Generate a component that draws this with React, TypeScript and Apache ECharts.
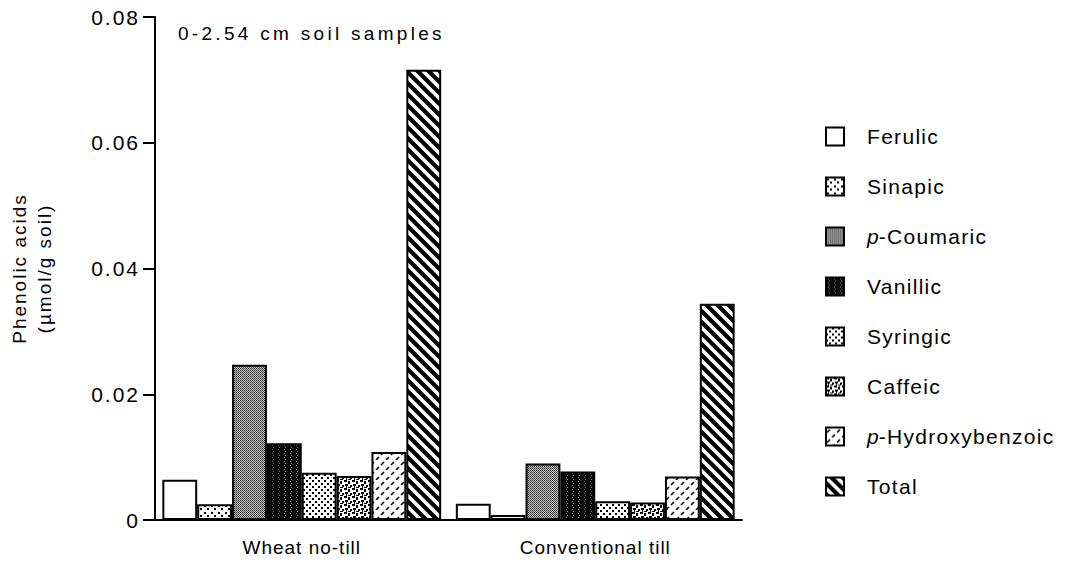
import React, { useEffect, useRef } from "react";
import * as echarts from "echarts";

const categories = ["Wheat no-till", "Conventional till"];
const acidNames = [
  "Ferulic",
  "Sinapic",
  "p-Coumaric",
  "Vanillic",
  "Syringic",
  "Caffeic",
  "p-Hydroxybenzoic",
  "Total",
];
const wheatNoTill = [0.0064, 0.0025, 0.0247, 0.0122, 0.0075, 0.007, 0.0108, 0.0716];
const conventionalTill = [0.0026, 0.0008, 0.009, 0.0077, 0.003, 0.0028, 0.0069, 0.0344];
const yMin = 0;
const yMax = 0.08;
const yStep = 0.02;
const subtitle = "0-2.54 cm soil samples";
const yNameLines = ["Phenolic acids", "(\u00b5mol/g soil)"];

const FONT = "'Liberation Sans', Arial, Helvetica, sans-serif";

function makePattern(w: number, h: number, draw: (ctx: CanvasRenderingContext2D) => void) {
  const c = document.createElement("canvas");
  c.width = w;
  c.height = h;
  const ctx = c.getContext("2d") as CanvasRenderingContext2D;
  draw(ctx);
  return { image: c, repeat: "repeat", imageWidth: w, imageHeight: h } as any;
}

function buildPatterns() {
  const white = "#ffffff";
  const black = "#000000";
  const ferulic = white;
  const sinapic = makePattern(7, 7, (ctx) => {
    ctx.fillStyle = white;
    ctx.fillRect(0, 0, 7, 7);
    ctx.fillStyle = black;
    ctx.fillRect(1, 1, 2, 2);
    ctx.fillRect(4, 4, 2, 2);
  });
  const coumaric = makePattern(2, 2, (ctx) => {
    ctx.fillStyle = "#c8c8c8";
    ctx.fillRect(0, 0, 2, 2);
    ctx.fillStyle = "#222";
    ctx.fillRect(0, 0, 1, 1);
    ctx.fillStyle = "#555";
    ctx.fillRect(1, 1, 1, 1);
  });
  const vanillic = makePattern(6, 4, (ctx) => {
    ctx.fillStyle = "#0a0a0a";
    ctx.fillRect(0, 0, 6, 4);
    ctx.fillStyle = "#777";
    ctx.fillRect(2, 1, 1, 1);
    ctx.fillRect(3, 3, 1, 1);
  });
  const syringic = makePattern(6, 6, (ctx) => {
    ctx.fillStyle = white;
    ctx.fillRect(0, 0, 6, 6);
    ctx.fillStyle = black;
    ctx.fillRect(0, 0, 2, 2);
    ctx.fillRect(3, 3, 2, 2);
  });
  const caffeic = makePattern(8, 8, (ctx) => {
    ctx.fillStyle = white;
    ctx.fillRect(0, 0, 8, 8);
    ctx.fillStyle = black;
    ctx.fillRect(0, 0, 3, 2);
    ctx.fillRect(4, 1, 2, 3);
    ctx.fillRect(1, 4, 3, 2);
    ctx.fillRect(6, 5, 2, 2);
    ctx.fillRect(4, 7, 3, 1);
    ctx.fillRect(2, 6, 1, 2);
  });
  const hydroxy = makePattern(10, 10, (ctx) => {
    ctx.fillStyle = white;
    ctx.fillRect(0, 0, 10, 10);
    ctx.strokeStyle = black;
    ctx.lineWidth = 1.6;
    ctx.beginPath();
    ctx.moveTo(1, 5);
    ctx.lineTo(4, 2);
    ctx.moveTo(6, 10);
    ctx.lineTo(9, 7);
    ctx.stroke();
  });
  const total = makePattern(11, 11, (ctx) => {
    ctx.fillStyle = black;
    ctx.fillRect(0, 0, 11, 11);
    ctx.strokeStyle = white;
    ctx.lineWidth = 3.6;
    ctx.beginPath();
    for (let k = -2; k <= 2; k++) {
      ctx.moveTo(k * 11 - 11, -11);
      ctx.lineTo(k * 11 + 22, 22);
    }
    ctx.stroke();
  });
  return [ferulic, sinapic, coumaric, vanillic, syringic, caffeic, hydroxy, total];
}

function spacingFor(t: string): number {
  const s = t.trim();
  if (s === subtitle) return 3.3;
  if (categories.includes(s)) return 1;
  if (yNameLines.includes(s)) return 2;
  if (/^[0-9.]+$/.test(s)) return 2;
  return 1.3;
}

export default function App() {
  const ref = useRef<HTMLDivElement>(null);

  useEffect(() => {
    document.body.style.margin = "0";
    if (!ref.current) return;
    const el = ref.current;
    const chart = echarts.init(el, undefined, { renderer: "svg" });
    const patterns = buildPatterns();

    const series = acidNames.map((name, i) => ({
      name,
      type: "bar",
      data: [wheatNoTill[i], conventionalTill[i]],
      barGap: "0%",
      barCategoryGap: "5%",
      itemStyle: {
        color: patterns[i],
        borderColor: "#000",
        borderWidth: 2,
      },
    }));

    chart.setOption({
      animation: false,
      backgroundColor: "#ffffff",
      textStyle: { fontFamily: FONT, color: "#000" },
      grid: {
        left: 155,
        right: 331,
        top: 17,
        bottom: 45,
        containLabel: false,
        outerBoundsMode: "none",
      },
      legend: {
        orient: "vertical",
        left: 820,
        top: 121,
        itemWidth: 18,
        itemHeight: 18,
        itemGap: 29,
        icon: "rect",
        itemStyle: { borderColor: "#000", borderWidth: 2 },
        selectedMode: false,
        formatter: (name: string) =>
          name.startsWith("p-") ? "{i|p}{n|" + name.slice(1) + "}" : "{n|" + name + "}",
        textStyle: {
          color: "#000",
          fontFamily: FONT,
          fontSize: 21,
          padding: [0, 0, 0, 18],
          rich: {
            i: { fontStyle: "italic", fontSize: 21, fontFamily: FONT, color: "#000" },
            n: { fontSize: 21, fontFamily: FONT, color: "#000" },
          },
        },
      },
      xAxis: {
        type: "category",
        data: categories,
        axisLine: { lineStyle: { color: "#000", width: 2 } },
        axisTick: { alignWithLabel: true, length: 10, lineStyle: { color: "#000", width: 2 } },
        axisLabel: { color: "#000", fontSize: 19, fontFamily: FONT, margin: 18 },
        splitLine: { show: false },
      },
      yAxis: {
        type: "value",
        min: yMin,
        max: yMax,
        interval: yStep,
        name: yNameLines.join("\n"),
        nameLocation: "middle",
        nameGap: 98,
        nameTextStyle: { color: "#000", fontSize: 19, fontFamily: FONT, lineHeight: 25 },
        axisLine: { show: true, lineStyle: { color: "#000", width: 2 } },
        axisTick: { show: true, length: 12, lineStyle: { color: "#000", width: 2 } },
        axisLabel: { color: "#000", fontSize: 21, fontFamily: FONT, margin: 15 },
        splitLine: { show: false },
      },
      graphic: [
        {
          type: "text",
          left: 178,
          top: 24,
          style: { text: subtitle, font: "19px " + FONT, fill: "#000" },
        },
      ],
      series,
    });

    const applySpacing = () => {
      el.querySelectorAll("text").forEach((t) => {
        const sp = spacingFor(t.textContent || "");
        t.setAttribute("letter-spacing", String(sp));
      });
    };
    applySpacing();
    chart.on("finished", applySpacing);
    const timer = window.setTimeout(applySpacing, 50);

    return () => {
      window.clearTimeout(timer);
      chart.dispose();
    };
  }, []);

  return (
    <div
      ref={ref}
      style={{ position: "absolute", left: 0, top: 0, width: 1073, height: 565 }}
    />
  );
}
